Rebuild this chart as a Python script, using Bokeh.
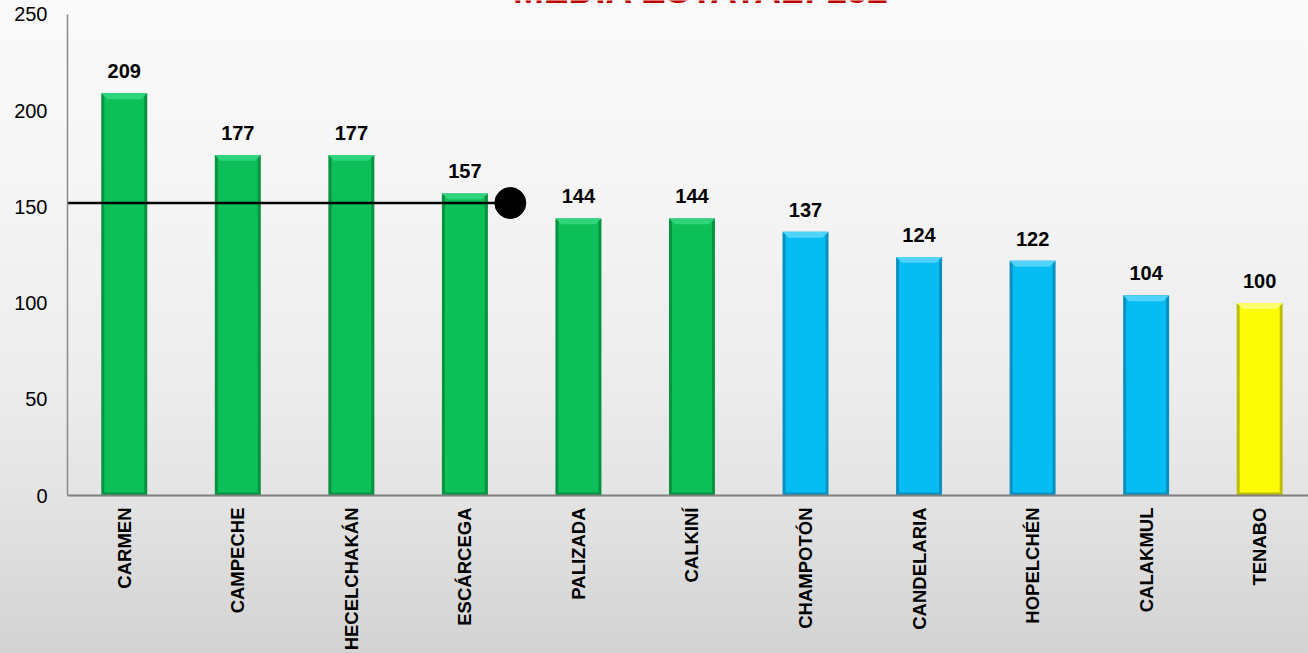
from bokeh.plotting import figure
from bokeh.models import ColumnDataSource, LabelSet, FixedTicker, Range1d
from bokeh.core.properties import value
from bokeh.embed import file_html
from bokeh.resources import INLINE

# ---------------- data ----------------
municipios = ["CARMEN", "CAMPECHE", "HECELCHAKÁN", "ESCÁRCEGA", "PALIZADA", "CALKINÍ",
              "CHAMPOTÓN", "CANDELARIA", "HOPELCHÉN", "CALAKMUL", "TENABO"]
valores = [209, 177, 177, 157, 144, 144, 137, 124, 122, 104, 100]
grupos = ["alto", "alto", "alto", "alto", "alto", "alto",
          "medio", "medio", "medio", "medio", "bajo"]
media_estatal = 152
titulo = "MEDIA ESTATAL: 152"
y_ticks = [0, 50, 100, 150, 200, 250]
linea_media_hasta = "ESCÁRCEGA"

# ---------------- style ----------------
main_col = {"alto": "#0cbf58", "medio": "#05bdf2", "bajo": "#fcfc04"}
edge_col = {"alto": "#07923f", "medio": "#0890c0", "bajo": "#bdbd00"}
light_col = {"alto": "#2fd57a", "medio": "#4fd3fa", "bajo": "#ffff70"}
FONT = "Liberation Sans"
BAR_W = 0.405
PX_X = 113.5   # px per category
PX_Y = 1.936   # px per unit
EDGE_DX = 3 / PX_X
EDGE_DY = 3 / PX_Y
TOP_DY = 6 / PX_Y
LINE_END_OFFSET = 0.40
Y_MAX = max(y_ticks)
Y_TOP = Y_MAX + 14 / PX_Y          # frame reaches the canvas top
TITLE_X = 6.08
TITLE_Y = Y_TOP + 10 / PX_Y        # title mostly above the canvas (cut, as in reference)

x = [i + 1 for i in range(len(municipios))]
src = ColumnDataSource(dict(
    x=x, v=valores, name=municipios,
    main=[main_col[g] for g in grupos],
    edge=[edge_col[g] for g in grupos],
    light=[light_col[g] for g in grupos],
    inner_top=[v - EDGE_DY for v in valores],
    label=[str(v) for v in valores],
))
bevel = ColumnDataSource(dict(
    xs=[[xi - BAR_W / 2, xi + BAR_W / 2, xi + BAR_W / 2 - EDGE_DX * 2, xi - BAR_W / 2 + EDGE_DX * 2]
        for xi in x],
    ys=[[v, v, v - TOP_DY, v - TOP_DY] for v in valores],
    fill=[light_col[g] for g in grupos],
))

p = figure(width=1308, height=653, output_backend="svg", toolbar_location=None,
           x_range=Range1d(0.5, 11.43), y_range=Range1d(0, Y_TOP),
           min_border_left=67, min_border_right=0, min_border_top=0, min_border_bottom=155)
p.background_fill_color = None
p.border_fill_color = None
p.outline_line_color = None
p.styles = {"background": "linear-gradient(to bottom, #fafafa 0%, #f6f6f6 25%, #ececec 60%, #e4e4e4 75%, #d3d3d3 100%)"}
p.xgrid.visible = False
p.ygrid.visible = False

# bars
p.vbar(x="x", width=BAR_W, top="v", bottom=0, source=src, fill_color="edge", line_color=None)
p.vbar(x="x", width=BAR_W - 2 * EDGE_DX, top="inner_top", bottom=EDGE_DY, source=src,
       fill_color="main", line_color=None)
p.patches("xs", "ys", source=bevel, fill_color="fill", line_color=None)

# value labels
p.add_layout(LabelSet(x="x", y="v", text="label", source=src, y_offset=15,
                      text_align="center", text_baseline="alphabetic",
                      text_font=value(FONT), text_font_style="bold",
                      text_font_size="20px", text_color="black"))

# mean line with end marker
x_end = municipios.index(linea_media_hasta) + 1 + LINE_END_OFFSET
p.line([0.5, x_end], [media_estatal, media_estatal], line_color="black", line_width=2.5)
p.scatter([x_end], [media_estatal], size=31, fill_color="black", line_color="black")

# title (partly cut at top, as in reference)
p.text(x=[TITLE_X], y=[TITLE_Y], text=[titulo], text_align="center",
       text_baseline="alphabetic", text_font=value(FONT), text_font_style="bold",
       text_font_size="37px", text_color="#c00000")

# axes
p.yaxis.ticker = FixedTicker(ticks=y_ticks)
p.yaxis.bounds = (0, Y_MAX)
p.yaxis.major_tick_line_color = None
p.yaxis.minor_tick_line_color = None
p.yaxis.major_tick_out = 0
p.yaxis.major_label_standoff = 20
p.yaxis.axis_line_color = "#8a8a8a"
p.yaxis.axis_line_width = 1.5
p.yaxis.major_label_text_font = FONT
p.yaxis.major_label_text_font_size = "20px"
p.yaxis.major_label_text_color = "black"

p.xaxis.ticker = FixedTicker(ticks=x)
p.xaxis.major_label_overrides = {xi: n for xi, n in zip(x, municipios)}
p.xaxis.major_tick_line_color = None
p.xaxis.minor_tick_line_color = None
p.xaxis.major_tick_out = 0
p.xaxis.major_label_standoff = 12
p.xaxis.major_label_orientation = 3.14159265 / 2
p.xaxis.axis_line_color = "#808080"
p.xaxis.axis_line_width = 2
p.xaxis.major_label_text_font = FONT
p.xaxis.major_label_text_font_style = "bold"
p.xaxis.major_label_text_font_size = "18.5px"
p.xaxis.major_label_text_color = "black"

open("out.html", "w").write(file_html(p, INLINE))
